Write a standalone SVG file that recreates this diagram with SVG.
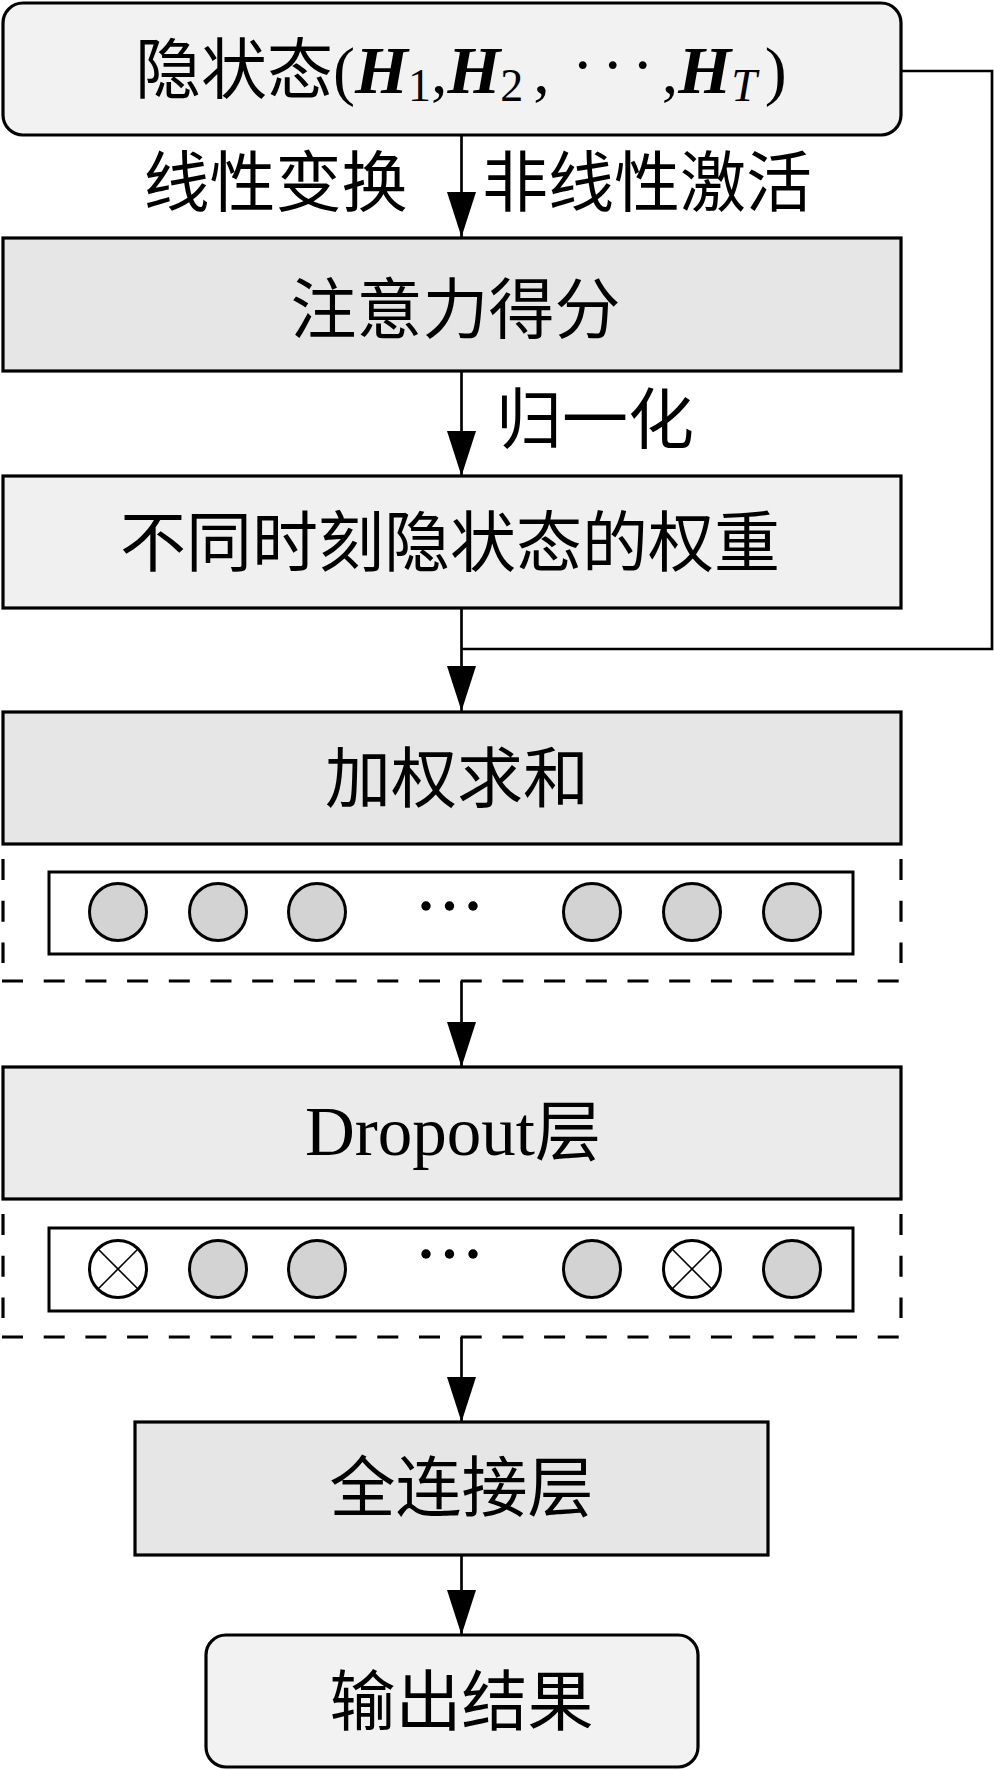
<svg xmlns="http://www.w3.org/2000/svg" width="995" height="1770" viewBox="0 0 995 1770">
<defs>
<style>
.box{stroke:#000;stroke-width:3.2}
.cjk{font-family:'Noto Sans CJK SC','Noto Sans CJK TC',sans-serif;font-size:66px;fill:#000}
.ser{font-family:'Liberation Serif',serif;fill:#000}
.mi{font-family:'Liberation Serif',serif;font-style:italic;font-weight:bold;fill:#000}
.con{fill:none;stroke:#000;stroke-width:2.7}
.dash{fill:none;stroke:#000;stroke-width:3.2;stroke-dasharray:21 20.7}
.inner{fill:#fff;stroke:#000;stroke-width:3}
.node{fill:#d3d3d3;stroke:#000;stroke-width:3}
.drop{fill:#fff;stroke:#000;stroke-width:3}
.x{stroke:#000;stroke-width:1.6}
</style>
<marker id="ah" markerUnits="userSpaceOnUse" markerWidth="46" markerHeight="30" refX="45" refY="14.5" orient="auto" viewBox="0 0 46 30">
<path d="M0,0 L45,14.5 L0,29 Z" fill="#000"/>
</marker>
</defs>
<rect width="995" height="1770" fill="#fff"/>

<g id="connectors">
<line class="con" x1="461.5" y1="135" x2="461.5" y2="237" marker-end="url(#ah)"/>
<line class="con" x1="461.5" y1="371" x2="461.5" y2="476" marker-end="url(#ah)"/>
<line class="con" x1="461.5" y1="608" x2="461.5" y2="711" marker-end="url(#ah)"/>
<polyline class="con" points="901,71 992,71 992,649 461.5,649"/>
<line class="con" x1="461.5" y1="981" x2="461.5" y2="1067" marker-end="url(#ah)"/>
<line class="con" x1="461.5" y1="1337" x2="461.5" y2="1422" marker-end="url(#ah)"/>
<line class="con" x1="461.5" y1="1555" x2="461.5" y2="1635" marker-end="url(#ah)"/>
</g>

<g id="hidden-states">
<rect class="box" x="3" y="3" width="898" height="132" rx="20" fill="#f2f2f2"/>
<text x="135" y="93"><tspan class="cjk">隐状态</tspan><tspan class="ser" font-size="66">(</tspan><tspan class="mi" font-size="68">H</tspan><tspan class="ser" y="101" font-size="46">1</tspan><tspan class="ser" y="93" font-size="66">,</tspan><tspan class="mi" font-size="68">H</tspan><tspan class="ser" y="101" font-size="46">2</tspan><tspan class="ser" dx="10" y="93" font-size="66">,</tspan><tspan class="ser" dx="22" y="87" font-size="66" letter-spacing="8">···</tspan><tspan class="ser" y="93" font-size="66">,</tspan><tspan class="mi" font-size="68">H</tspan><tspan class="ser" y="101" font-size="46" font-style="italic">T</tspan><tspan class="ser" dx="8" y="93" font-size="66">)</tspan></text>
</g>

<g id="label-linear">
<text class="cjk" x="275.5" y="206" text-anchor="middle">线性变换</text>
</g>
<g id="label-nonlinear">
<text class="cjk" x="647" y="206" text-anchor="middle">非线性激活</text>
</g>

<g id="attention-score">
<rect class="box" x="3" y="238" width="898" height="133" fill="#e6e6e6"/>
<text class="cjk" x="455.5" y="333" text-anchor="middle">注意力得分</text>
</g>

<g id="label-normalize">
<text class="cjk" x="595" y="443" text-anchor="middle">归一化</text>
</g>

<g id="weights">
<rect class="box" x="3" y="476" width="898" height="132" fill="#f0f0f0"/>
<text class="cjk" x="450" y="566" text-anchor="middle">不同时刻隐状态的权重</text>
</g>

<g id="weighted-sum">
<rect class="box" x="3" y="712" width="898" height="132" fill="#e6e6e6"/>
<text class="cjk" x="457" y="802" text-anchor="middle">加权求和</text>
</g>

<g id="weighted-sum-vector">
<polyline class="dash" points="3,859 3,963"/>
<polyline class="dash" points="901,859 901,963"/>
<line class="dash" x1="2" y1="981" x2="902" y2="981"/>
<rect class="inner" x="49" y="872" width="804" height="82"/>
<circle class="node" cx="118" cy="912" r="28.5"/>
<circle class="node" cx="218" cy="912" r="28.5"/>
<circle class="node" cx="317" cy="912" r="28.5"/>
<circle cx="426" cy="906" r="4.7"/>
<circle cx="449.5" cy="906" r="4.7"/>
<circle cx="473" cy="906" r="4.7"/>
<circle class="node" cx="592" cy="912" r="28.5"/>
<circle class="node" cx="692" cy="912" r="28.5"/>
<circle class="node" cx="792" cy="912" r="28.5"/>
</g>

<g id="dropout">
<rect class="box" x="3" y="1067" width="898" height="132" fill="#ebebeb"/>
<text x="305" y="1155"><tspan class="ser" font-size="69">Dropout</tspan><tspan class="cjk" font-size="66">层</tspan></text>
</g>

<g id="dropout-vector">
<polyline class="dash" points="3,1214 3,1318"/>
<polyline class="dash" points="901,1214 901,1318"/>
<line class="dash" x1="2" y1="1337" x2="902" y2="1337"/>
<rect class="inner" x="49" y="1228" width="804" height="83"/>
<circle class="drop" cx="118" cy="1269" r="28.5"/>
<line class="x" x1="97.8" y1="1248.8" x2="138.2" y2="1289.2"/>
<line class="x" x1="138.2" y1="1248.8" x2="97.8" y2="1289.2"/>
<circle class="node" cx="218" cy="1269" r="28.5"/>
<circle class="node" cx="317" cy="1269" r="28.5"/>
<circle cx="426" cy="1254" r="4.7"/>
<circle cx="449.5" cy="1254" r="4.7"/>
<circle cx="473" cy="1254" r="4.7"/>
<circle class="node" cx="592" cy="1269" r="28.5"/>
<circle class="drop" cx="692" cy="1269" r="28.5"/>
<line class="x" x1="671.8" y1="1248.8" x2="712.2" y2="1289.2"/>
<line class="x" x1="712.2" y1="1248.8" x2="671.8" y2="1289.2"/>
<circle class="node" cx="792" cy="1269" r="28.5"/>
</g>

<g id="fully-connected">
<rect class="box" x="135" y="1422" width="633" height="133" fill="#e6e6e6"/>
<text class="cjk" x="461.5" y="1511" text-anchor="middle">全连接层</text>
</g>

<g id="output">
<rect class="box" x="206" y="1635" width="492" height="132" rx="20" fill="#f2f2f2"/>
<text class="cjk" x="461.5" y="1725" text-anchor="middle">输出结果</text>
</g>
</svg>
